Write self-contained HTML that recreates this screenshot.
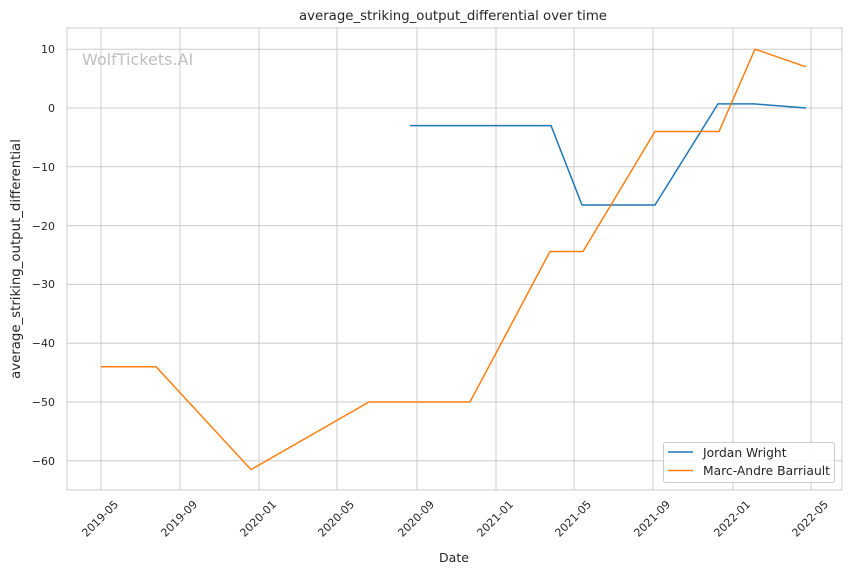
<!DOCTYPE html>
<html><head><meta charset="utf-8"><style>
html,body{margin:0;padding:0;background:#fff;}
svg{display:block;font-family:"DejaVu Sans","Liberation Sans",sans-serif;}
</style></head><body>
<svg width="850" height="575" viewBox="0 0 850 575" xmlns="http://www.w3.org/2000/svg">
<rect width="850" height="575" fill="#fff"/>
<g stroke="#cccccc" stroke-width="1">
<line x1="67" x2="842" y1="49.2" y2="49.2"/>
<line x1="67" x2="842" y1="108" y2="108"/>
<line x1="67" x2="842" y1="166.8" y2="166.8"/>
<line x1="67" x2="842" y1="225.6" y2="225.6"/>
<line x1="67" x2="842" y1="284.4" y2="284.4"/>
<line x1="67" x2="842" y1="343.2" y2="343.2"/>
<line x1="67" x2="842" y1="402" y2="402"/>
<line x1="67" x2="842" y1="460.8" y2="460.8"/>
<line x1="101" x2="101" y1="28" y2="490"/>
<line x1="180" x2="180" y1="28" y2="490"/>
<line x1="259" x2="259" y1="28" y2="490"/>
<line x1="337" x2="337" y1="28" y2="490"/>
<line x1="417" x2="417" y1="28" y2="490"/>
<line x1="496" x2="496" y1="28" y2="490"/>
<line x1="574" x2="574" y1="28" y2="490"/>
<line x1="653" x2="653" y1="28" y2="490"/>
<line x1="733" x2="733" y1="28" y2="490"/>
<line x1="811" x2="811" y1="28" y2="490"/>
</g>
<rect x="67" y="28" width="775" height="462" fill="none" stroke="#cccccc" stroke-width="1"/>
<text x="82" y="65" font-size="16" fill="#c0c0c0">WolfTickets.AI</text>
<polyline fill="none" stroke="#1f77b4" stroke-width="1.5" points="410,125.6 551,125.6 582,205 655,205 718,103.9 754,103.9 806,108"/>
<polyline fill="none" stroke="#ff7f0e" stroke-width="1.5" points="101,366.7 156,366.7 251,469.6 369,402 470,402 550,251.5 583,251.5 655,131.5 719,131.5 755,49.2 806,66.8"/>
<g font-size="11" fill="#262626" text-anchor="end">
<text x="55" y="53">10</text>
<text x="55" y="112">0</text>
<text x="55" y="171">−10</text>
<text x="55" y="230">−20</text>
<text x="55" y="288">−30</text>
<text x="55" y="347">−40</text>
<text x="55" y="406">−50</text>
<text x="55" y="465">−60</text>
</g>
<g font-size="11" fill="#262626" text-anchor="end">
<text transform="translate(119,505) rotate(-45)">2019-05</text>
<text transform="translate(198,505) rotate(-45)">2019-09</text>
<text transform="translate(277,505) rotate(-45)">2020-01</text>
<text transform="translate(355,505) rotate(-45)">2020-05</text>
<text transform="translate(435,505) rotate(-45)">2020-09</text>
<text transform="translate(514,505) rotate(-45)">2021-01</text>
<text transform="translate(592,505) rotate(-45)">2021-05</text>
<text transform="translate(671,505) rotate(-45)">2021-09</text>
<text transform="translate(751,505) rotate(-45)">2022-01</text>
<text transform="translate(829,505) rotate(-45)">2022-05</text>
</g>
<text x="454" y="562" font-size="12.5" fill="#262626" text-anchor="middle">Date</text>
<text transform="translate(20,259) rotate(-90)" font-size="13.3" fill="#262626" text-anchor="middle">average_striking_output_differential</text>
<text x="453" y="20" font-size="13.3" fill="#262626" text-anchor="middle">average_striking_output_differential over time</text>
<rect x="663.5" y="442.5" width="171" height="40" rx="2" fill="#fff" fill-opacity="0.85" stroke="#cccccc"/>
<line x1="668" x2="693" y1="452" y2="452" stroke="#1f77b4" stroke-width="1.5"/>
<line x1="668" x2="693" y1="470.5" y2="470.5" stroke="#ff7f0e" stroke-width="1.5"/>
<text x="703" y="457" font-size="12.3" fill="#262626">Jordan Wright</text>
<text x="703" y="475" font-size="12.3" fill="#262626">Marc-Andre Barriault</text>
</svg>
</body></html>
